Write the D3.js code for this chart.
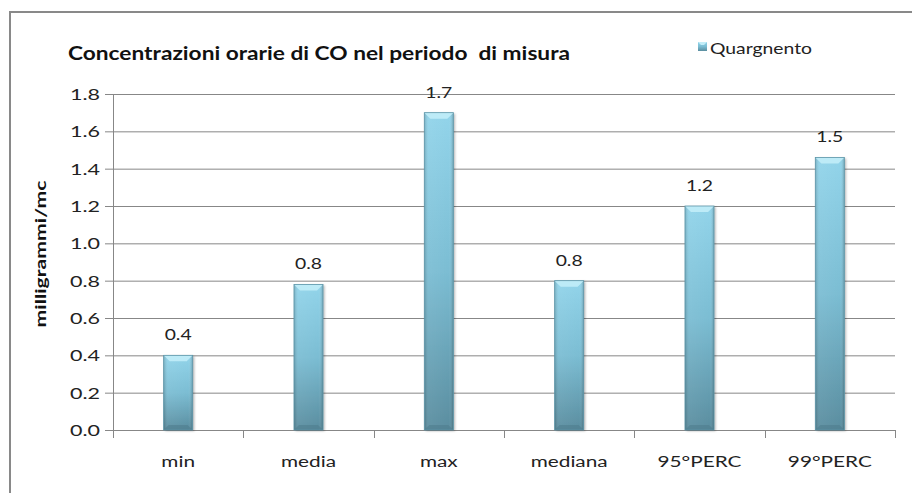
<!DOCTYPE html>
<html>
<head>
<meta charset="utf-8">
<script src="https://cdn.jsdelivr.net/npm/d3@7"></script>
<style>
  body { margin: 0; background: #fff; }
  svg { display: block; font-family: Lato, "Open Sans", sans-serif; }
</style>
</head>
<body>
<div id="chart"></div>
<script>
// data
const categories = ["min", "media", "max", "mediana", "95°PERC", "99°PERC"];
const values = [0.40, 0.78, 1.70, 0.80, 1.20, 1.46];
const yTicks = [0, 0.2, 0.4, 0.6, 0.8, 1.0, 1.2, 1.4, 1.6, 1.8];
const seriesName = "Quargnento";
const titleText = "Concentrazioni orarie di CO nel periodo  di misura";
const yTitle = "milligrammi/mc";

const W = 912, H = 493;
const plot = { left: 113, right: 895, top: 94, bottom: 430 };

const svg = d3.select("#chart").append("svg")
  .attr("width", W).attr("height", H);

const defs = svg.append("defs");
const vg = defs.append("linearGradient").attr("id", "barV")
  .attr("x1", 0).attr("y1", 0).attr("x2", 0).attr("y2", 1);
vg.append("stop").attr("offset", "0%").attr("stop-color", "#92d4ea");
vg.append("stop").attr("offset", "50%").attr("stop-color", "#7bbdd3");
vg.append("stop").attr("offset", "100%").attr("stop-color", "#5a8d9f");
const hg = defs.append("linearGradient").attr("id", "barH")
  .attr("x1", 0).attr("y1", 0).attr("x2", 1).attr("y2", 0);
hg.append("stop").attr("offset", "0%").attr("stop-color", "#000").attr("stop-opacity", 0.18);
hg.append("stop").attr("offset", "15%").attr("stop-color", "#fff").attr("stop-opacity", 0.05);
hg.append("stop").attr("offset", "85%").attr("stop-color", "#fff").attr("stop-opacity", 0.0);
hg.append("stop").attr("offset", "100%").attr("stop-color", "#000").attr("stop-opacity", 0.22);
defs.append("filter").attr("id", "shadow")
  .attr("x", "-30%").attr("y", "-10%").attr("width", "160%").attr("height", "120%")
  .append("feDropShadow").attr("dx", 1.5).attr("dy", 1).attr("stdDeviation", 1.2)
  .attr("flood-color", "#000").attr("flood-opacity", 0.3);

// outer frame
svg.append("path")
  .attr("d", `M10,${H} L10,12 L${W},12`)
  .attr("fill", "none").attr("stroke", "#898989").attr("stroke-width", 2);

const x = d3.scaleBand().domain(categories)
  .range([plot.left, plot.right]).paddingInner(0.777).paddingOuter(0.3885);
const y = d3.scaleLinear().domain([0, 1.8]).range([plot.bottom, plot.top]);

// gridlines + left ticks
const yAxis = d3.axisLeft(y).tickValues(yTicks)
  .tickSize(-(plot.right - plot.left)).tickSizeOuter(0).tickPadding(13)
  .tickFormat(d3.format(".1f"));
const gy = svg.append("g").attr("transform", `translate(${plot.left},0)`).call(yAxis);
gy.select(".domain").attr("stroke", "#878787");
gy.selectAll(".tick line").attr("stroke", "#878787").attr("x1", -8);
gy.selectAll(".tick text").attr("font-size", 15.5).attr("fill", "#222")
  .attr("font-family", "Lato").attr("dy", "0.36em").classed("s-tick", true);

// x axis with ticks between categories
const bounds = categories.map(c => x(c) - x.step() * x.paddingOuter()).concat([plot.right]);
const gx = svg.append("g");
gx.append("line").attr("x1", plot.left).attr("x2", plot.right)
  .attr("y1", plot.bottom + 0.5).attr("y2", plot.bottom + 0.5).attr("stroke", "#878787");
gx.selectAll("line.tk").data(bounds).join("line").attr("class", "tk")
  .attr("x1", d => Math.round(d) + 0.5).attr("x2", d => Math.round(d) + 0.5)
  .attr("y1", plot.bottom).attr("y2", plot.bottom + 8).attr("stroke", "#878787");
gx.selectAll("text").data(categories).join("text")
  .attr("class", "s-cat")
  .attr("x", d => x(d) + x.bandwidth() / 2).attr("y", 467)
  .attr("text-anchor", "middle").attr("font-size", 15.5).attr("fill", "#222")
  .text(d => d);

// bars
const bw = x.bandwidth();
const bars = svg.append("g").selectAll("g").data(values).join("g")
  .attr("transform", (d, i) => `translate(${x(categories[i])},0)`);
bars.append("rect")
  .attr("y", d => y(d)).attr("width", bw).attr("height", d => y(0) - y(d))
  .attr("fill", "url(#barV)").attr("filter", "url(#shadow)");
bars.append("rect")
  .attr("y", d => y(d)).attr("width", bw).attr("height", d => y(0) - y(d))
  .attr("fill", "url(#barH)");
bars.append("path") // top bevel
  .attr("d", d => `M0,${y(d)} L${bw},${y(d)} L${bw - 6},${y(d) + 6} L6,${y(d) + 6} Z`)
  .attr("fill", "#c4eef9").attr("opacity", 0.85);
bars.append("path") // bottom bevel
  .attr("d", `M0,${y(0)} L${bw},${y(0)} L${bw - 5},${y(0) - 5} L5,${y(0) - 5} Z`)
  .attr("fill", "#4e7d8e").attr("opacity", 0.6);
bars.append("rect")
  .attr("y", d => y(d)).attr("width", bw).attr("height", d => y(0) - y(d))
  .attr("fill", "none").attr("stroke", "#5d95a8").attr("stroke-width", 0.8);

// data labels
svg.append("g").selectAll("text").data(values).join("text")
  .attr("class", "s-val")
  .attr("x", (d, i) => x(categories[i]) + bw / 2).attr("y", d => y(d) - 15)
  .attr("text-anchor", "middle").attr("font-size", 16).attr("fill", "#222")
  .text(d => d.toFixed(1));

// title (keeps the double space of the original)
svg.append("text").attr("class", "s-title").attr("x", 68).attr("y", 60)
  .attr("font-size", 18).attr("font-weight", "bold").attr("fill", "#111")
  .style("white-space", "pre")
  .text(titleText);

// y axis title
svg.append("text").attr("transform", "translate(46,254) rotate(-90)")
  .attr("text-anchor", "middle").attr("font-size", 15.5).attr("font-weight", "bold")
  .attr("fill", "#111").attr("class", "s-ytitle")
  .text(yTitle);

// legend
const lg = svg.append("g").attr("transform", "translate(698,42)");
lg.append("rect").attr("width", 9).attr("height", 9).attr("fill", "url(#barV)");
lg.append("path").attr("d", "M0,0 L9,0 L6,3 L3,3 Z").attr("fill", "#c4eef9");
lg.append("text").attr("class", "s-leg").attr("x", 12).attr("y", 12)
  .attr("font-size", 16).attr("fill", "#222")
  .text(seriesName);

// the source text is stretched sideways; fit each group to a width
const fits = [
  { cls: "s-tick", sample: "1.8", width: 30 },
  { cls: "s-cat", sample: "media", width: 55 },
  { cls: "s-val", sample: "1.7", width: 27 },
  { cls: "s-title", sample: titleText, width: 502 },
  { cls: "s-ytitle", sample: yTitle, width: 147 },
  { cls: "s-leg", sample: seriesName, width: 102 }
];
fits.forEach(f => {
  const sel = svg.selectAll("text." + f.cls);
  const ref = sel.filter(function () { return this.textContent === f.sample; }).node() || sel.node();
  const k = f.width / ref.getComputedTextLength();
  sel.each(function () {
    const len = this.getComputedTextLength();
    d3.select(this).attr("textLength", len * k).attr("lengthAdjust", "spacingAndGlyphs");
  });
});
</script>
</body>
</html>
